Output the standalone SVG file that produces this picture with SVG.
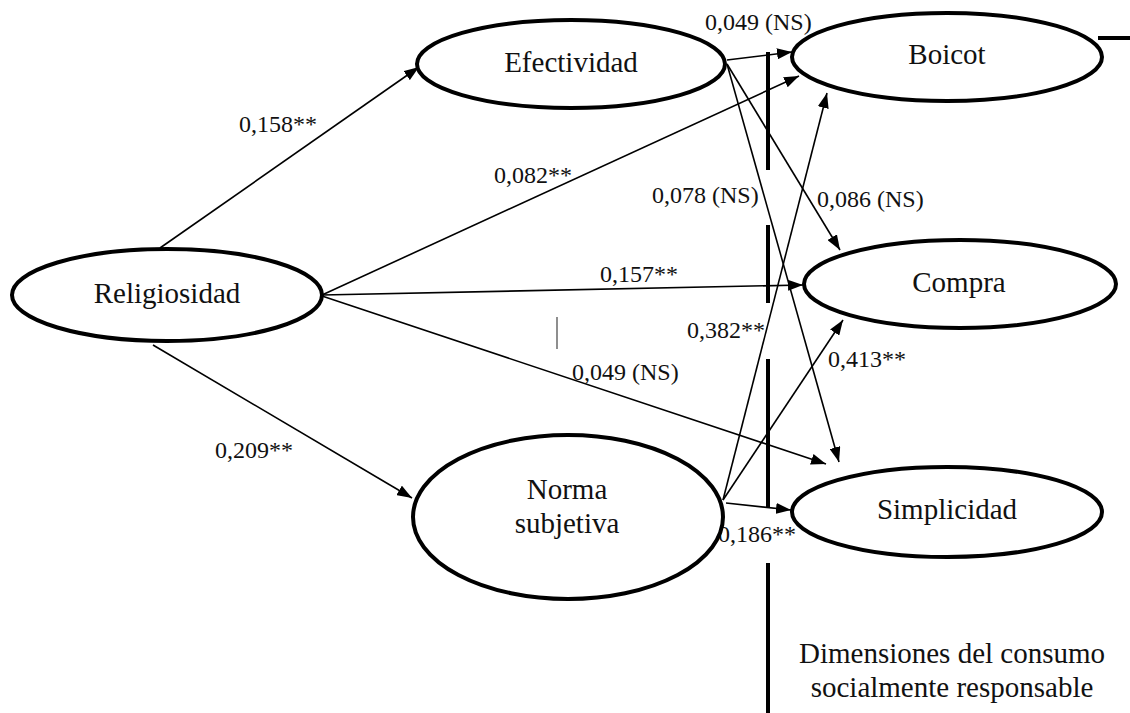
<svg xmlns="http://www.w3.org/2000/svg" width="1130" height="713" viewBox="0 0 1130 713">
<style>
.node{fill:#fff;stroke:#000;stroke-width:4}
.nt{font-family:'Liberation Serif','Tinos','DejaVu Serif',serif;font-size:29px;fill:#111;text-anchor:middle}
.lb{font-family:'Liberation Serif','Tinos','DejaVu Serif',serif;font-size:24px;fill:#111}
.cn{stroke:#000;stroke-width:1.6;fill:none;marker-end:url(#arr)}
.bar{stroke:#000;stroke-width:4}
</style>
<defs>
<marker id="arr" markerUnits="userSpaceOnUse" markerWidth="15" markerHeight="11" refX="15" refY="5.5" orient="auto">
<path d="M0,0 L15,5.5 L0,11 z" fill="#000"/>
</marker>
</defs>
<rect width="1130" height="713" fill="#fff"/>
<g id="bars">
<line class="bar" x1="768" y1="52" x2="768" y2="170"/>
<line class="bar" x1="768" y1="225" x2="768" y2="303"/>
<line class="bar" x1="768" y1="359" x2="768" y2="507"/>
<line class="bar" x1="768" y1="563" x2="768" y2="713"/>
<line x1="557" y1="317" x2="557" y2="349" stroke="#444" stroke-width="1.2"/>
<line class="bar" x1="1098" y1="38" x2="1130" y2="38"/>
</g>
<g id="connectors">
<line class="cn" x1="160" y1="248" x2="419" y2="67"/>
<line class="cn" x1="322" y1="295" x2="799" y2="76"/>
<line class="cn" x1="322" y1="295" x2="803" y2="285"/>
<line class="cn" x1="322" y1="296" x2="826" y2="464"/>
<line class="cn" x1="153" y1="345" x2="412" y2="498"/>
<line class="cn" x1="727" y1="60" x2="792" y2="52"/>
<line class="cn" x1="727" y1="64" x2="840" y2="250"/>
<line class="cn" x1="727" y1="64" x2="839" y2="462"/>
<line class="cn" x1="723" y1="500" x2="827" y2="93"/>
<line class="cn" x1="723" y1="500" x2="843" y2="320"/>
<line class="cn" x1="726" y1="503" x2="791" y2="510"/>
</g>
<g id="labels">
<text class="lb" x="239" y="132">0,158**</text>
<text class="lb" x="494" y="183">0,082**</text>
<text class="lb" x="705" y="30">0,049 (NS)</text>
<text class="lb" x="652" y="203">0,078 (NS)</text>
<text class="lb" x="817" y="207">0,086 (NS)</text>
<text class="lb" x="600" y="282">0,157**</text>
<text class="lb" x="687" y="338">0,382**</text>
<text class="lb" x="828" y="367">0,413**</text>
<text class="lb" x="572" y="380">0,049 (NS)</text>
<text class="lb" x="215" y="458">0,209**</text>
<text class="lb" x="718" y="542">0,186**</text>
</g>
<g id="religiosidad">
<ellipse class="node" cx="167" cy="295" rx="155" ry="46"/>
<text class="nt" x="167" y="303">Religiosidad</text>
</g>
<g id="efectividad">
<ellipse class="node" cx="571" cy="64" rx="154" ry="44"/>
<text class="nt" x="571" y="72">Efectividad</text>
</g>
<g id="norma">
<ellipse class="node" cx="568" cy="517" rx="155" ry="82"/>
<text class="nt" x="567" y="499">Norma</text>
<text class="nt" x="567" y="533">subjetiva</text>
</g>
<g id="boicot">
<ellipse class="node" cx="947" cy="57" rx="155" ry="44"/>
<text class="nt" x="947" y="64">Boicot</text>
</g>
<g id="compra">
<ellipse class="node" cx="960" cy="284" rx="156" ry="44"/>
<text class="nt" x="959" y="292">Compra</text>
</g>
<g id="simplicidad">
<ellipse class="node" cx="947" cy="512" rx="155" ry="45"/>
<text class="nt" x="947" y="519">Simplicidad</text>
</g>
<g id="dimensiones">
<text class="nt" x="952" y="663">Dimensiones del consumo</text>
<text class="nt" x="952" y="697">socialmente responsable</text>
</g>
</svg>
